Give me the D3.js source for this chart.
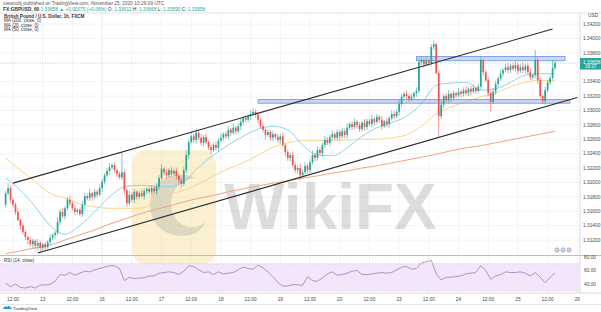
<!DOCTYPE html>
<html>
<head>
<meta charset="utf-8">
<script src="https://cdn.jsdelivr.net/npm/d3@7"></script>
<style>
  body { margin: 0; background: #fff; }
  svg { display: block; font-family: "Liberation Sans", Arial, sans-serif; }
</style>
</head>
<body>
<svg id="chart" width="601" height="312"></svg>
<script>
// GBPUSD 1h candles, Nov 12 - Nov 25 2020
var firstOpen = 1.3169;
var closes = [
  1.3185,1.3192,1.3176,1.3169,1.3159,1.3148,1.3140,1.3131,1.3124,1.3120,
  1.3114,1.3119,1.3112,1.3116,1.3109,1.3114,1.3110,1.3117,1.3123,1.3127,
  1.3130,1.3145,1.3159,1.3153,1.3164,1.3176,1.3171,1.3164,1.3159,1.3162,
  1.3156,1.3169,1.3181,1.3178,1.3185,1.3180,1.3187,1.3183,1.3192,1.3201,
  1.3210,1.3216,1.3221,1.3224,1.3217,1.3212,1.3207,1.3214,1.3189,1.3171,
  1.3183,1.3176,1.3187,1.3180,1.3185,1.3181,1.3188,1.3191,1.3187,1.3192,
  1.3188,1.3194,1.3206,1.3219,1.3214,1.3210,1.3217,1.3212,1.3216,1.3209,
  1.3203,1.3198,1.3217,1.3238,1.3256,1.3264,1.3259,1.3269,1.3262,1.3255,
  1.3263,1.3256,1.3249,1.3245,1.3252,1.3248,1.3258,1.3262,1.3267,1.3264,
  1.3273,1.3269,1.3276,1.3271,1.3278,1.3284,1.3289,1.3287,1.3292,1.3295,
  1.3298,1.3294,1.3287,1.3278,1.3273,1.3266,1.3270,1.3262,1.3267,1.3263,
  1.3259,1.3264,1.3252,1.3242,1.3234,1.3238,1.3224,1.3217,1.3220,1.3210,
  1.3214,1.3223,1.3217,1.3228,1.3238,1.3234,1.3245,1.3241,1.3252,1.3259,
  1.3255,1.3263,1.3267,1.3262,1.3270,1.3264,1.3271,1.3266,1.3276,1.3281,
  1.3277,1.3284,1.3280,1.3274,1.3283,1.3277,1.3285,1.3281,1.3288,1.3284,
  1.3291,1.3287,1.3278,1.3285,1.3281,1.3289,1.3295,1.3292,1.3298,1.3309,
  1.3319,1.3323,1.3320,1.3316,1.3319,1.3324,1.3327,1.3367,1.3370,1.3364,
  1.3369,1.3366,1.3388,1.3392,1.3352,1.3292,1.3308,1.3320,1.3314,1.3323,
  1.3317,1.3324,1.3321,1.3326,1.3323,1.3328,1.3324,1.3330,1.3326,1.3331,
  1.3327,1.3333,1.3370,1.3353,1.3342,1.3324,1.3312,1.3326,1.3337,1.3344,
  1.3351,1.3356,1.3360,1.3356,1.3362,1.3358,1.3363,1.3355,1.3360,1.3356,
  1.3362,1.3353,1.3346,1.3349,1.3370,1.3342,1.3320,1.3313,1.3328,1.3339,
  1.3345,1.3359,1.3366
];
// wick lengths above / below the body, in pips
var wickUp = [
  3,7,4,2,3,5,2,4,3,2, 4,3,2,5,3,2,4,3,5,2, 3,6,4,5,3,4,6,3,4,2,
  3,5,4,3,6,2,4,3,5,4, 3,4,6,3,4,2,3,28,4,3, 5,3,4,2,3,5,4,2,3,4,
  3,5,4,6,2,4,3,5,3,4, 3,4,5,6,4,5,3,6,4,5, 3,5,2,4,3,5,4,6,3,4,
  5,3,6,2,4,5,3,4,3,5, 5,3,4,2,5,3,4,3,5,2, 4,3,5,2,4,3,5,4,3,6,
  4,5,3,4,6,3,5,4,3,6, 4,3,5,2,4,3,5,4,6,3, 4,5,3,4,2,5,3,4,6,3,
  4,3,5,2,4,3,5,4,3,6, 4,3,5,3,4,2,5,6,4,3, 5,3,4,5,2,4,6,3,4,5,
  3,4,2,5,3,4,6,3,4,5, 3,4,4,2,3,4,3,5,4,3, 5,3,4,6,3,4,5,3,4,6,
  3,4,5,2,14,3,4,2,5,3, 4,11,3
];
var wickDown = [
  4,3,5,3,4,2,5,3,4,6, 3,5,4,6,6,4,5,3,4,3, 5,3,4,2,5,3,4,3,5,4,
  3,4,6,3,4,5,3,4,2,5, 4,3,5,3,4,5,3,4,6,5, 4,3,5,4,3,2,5,4,3,4,
  3,5,4,3,4,5,3,4,2,5, 4,5,3,4,5,3,4,5,3,4, 5,3,4,6,3,4,5,3,4,3,
  4,5,3,4,3,5,4,3,4,5, 3,4,5,3,4,6,3,4,5,3, 4,5,3,6,4,5,3,4,5,7,
  4,3,5,4,3,5,4,3,6,4, 3,5,4,3,4,5,3,4,5,3, 4,3,5,4,3,5,4,3,4,5,
  3,4,5,3,4,5,3,4,3,5, 4,3,5,4,3,4,5,3,4,5, 3,4,5,4,3,30,4,5,3,4,
  5,3,4,3,5,4,3,4,5,3, 4,3,4,5,3,4,14,3,4,5, 3,4,3,5,4,3,4,5,3,4,
  5,3,4,3,4,5,3,4,5,3, 4,3,4
];

// moving averages, one value every 6 bars (bar 0, 6, ... 222)
var maStep = 6;
var ma200 = [1.3101,1.3105,1.3109,1.3113,1.3120,1.3127,1.3134,1.3142,1.3149,1.3156,
  1.3162,1.3167,1.3173,1.3178,1.3182,1.3187,1.3191,1.3195,1.3199,1.3202,
  1.3206,1.3209,1.3213,1.3216,1.3220,1.3223,1.3227,1.3231,1.3235,1.3239,
  1.3244,1.3248,1.3251,1.3255,1.3259,1.3263,1.3267,1.3271];
var ma20 = [1.3206,1.3189,1.3166,1.3140,1.3128,1.3140,1.3159,1.3180,1.3194,1.3196,
  1.3195,1.3194,1.3201,1.3221,1.3238,1.3252,1.3264,1.3274,1.3278,1.3273,
  1.3252,1.3238,1.3237,1.3248,1.3264,1.3276,1.3283,1.3292,1.3309,1.3335,
  1.3338,1.3339,1.3328,1.3330,1.3339,1.3349,1.3351,1.3351];
var ma50 = [1.3234,1.3217,1.3201,1.3185,1.3178,1.3170,1.3166,1.3164,1.3164,1.3164,
  1.3171,1.3183,1.3189,1.3198,1.3209,1.3219,1.3227,1.3238,1.3249,1.3255,
  1.3258,1.3258,1.3258,1.3259,1.3260,1.3260,1.3262,1.3266,1.3278,1.3295,
  1.3305,1.3312,1.3319,1.3324,1.3333,1.3339,1.3342,1.3341];

// RSI(14), one value every 2 bars
var rsiStep = 2;
var rsi = [41,36,40,35,34,36,34,38.5,38.5,39.5, 44,54,53,57,53,56,59,58,61,63,
  65,67,67,63,45,50,48,49,49,52, 52,56,57,58,57,54,59,67,66,61,
  57,58,54,58,55,56,57,61,65,63, 62,68,64,58,51,42,37,37,39,39,
  38,51,45,44,49,55,58,53,54,56, 59,60,54,54,55,56,57,56,57,61,
  65,66,62,63,71,73,75,55,46,50, 50,51,52,55,56,57,67,60,47,52,
  54,58,57,57,58,56,52,57,50,42, 50,56];

// drawings: trend channel and horizontal zones
var upperChannel = [[3, 1.3199], [221, 1.3413]];
var lowerChannel = [[13, 1.3102], [231, 1.3318]];
var zones = [
  {from: 102, to: 228, top: 1.3315, bottom: 1.3310},
  {from: 166, to: 226, top: 1.3375, bottom: 1.3369}
];
var lastPrice = 1.33658;

// axis labels
var priceTicks = [1.3420,1.3400,1.3380,1.3340,1.3320,1.3300,1.3280,1.3260,1.3240,1.3220,1.3200,1.3180,1.3160,1.3140,1.3120];
var rsiTicks = [80, 60, 40];
var timeTickBars = [3,15,27,39,51,63,75,87,99,111,123,135,147,159,171,183,195,207,219,231];
var timeTickLabels = ["12:00","13","12:00","16","12:00","17","12:00","18","12:00","19","12:00","20","12:00","23","12:00","24","12:00","25","12:00","26"];

var svg = d3.select("#chart");
var W = 601, plotRight = 580;
var paneTop = 13, paneBottom = 255.5, rsiTop = 256, rsiBottom = 293;

var x = d3.scaleLinear().domain([0, 222]).range([5.6, 555.05]);
var y = d3.scaleLinear().domain([1.3420, 1.3120]).range([24, 240]);
var yr = d3.scaleLinear().domain([80, 40]).range([257, 284]);

// grid
var grid = svg.append("g");
grid.selectAll(".vg").data(timeTickBars).enter().append("line")
  .attr("x1", d => x(d)).attr("x2", d => x(d))
  .attr("y1", paneTop).attr("y2", rsiBottom)
  .attr("stroke", d => d == 39 ? "#e2e2e2" : "#f1f1f1").attr("stroke-width", 0.8);
grid.selectAll(".hg").data(priceTicks).enter().append("line")
  .attr("x1", 0).attr("x2", plotRight)
  .attr("y1", d => y(d)).attr("y2", d => y(d))
  .attr("stroke", "#f1f1f1").attr("stroke-width", 0.8);

// WikiFX watermark
var wm = svg.append("g");
wm.append("rect").attr("x", 132).attr("y", 150).attr("width", 84).attr("height", 114)
  .attr("rx", 14).attr("fill", "#f7e19a").attr("opacity", 0.45);
wm.append("path")
  .attr("d", "M150,205 C150,180 175,168 195,178 C180,180 168,192 172,210 C176,228 196,232 205,222 C198,245 150,240 150,205 Z")
  .attr("fill", "#9a9a9a").attr("opacity", 0.3);
wm.append("text").attr("x", 224).attr("y", 229).text("WikiFX")
  .attr("font-size", 64).attr("font-weight", "bold").attr("fill", "#000").attr("opacity", 0.13);

// pane borders
svg.append("line").attr("x1", 0).attr("x2", W).attr("y1", paneTop).attr("y2", paneTop).attr("stroke", "#d9d9d9").attr("stroke-width", 0.8);
svg.append("line").attr("x1", 0).attr("x2", W).attr("y1", paneBottom).attr("y2", paneBottom).attr("stroke", "#bdbdbd").attr("stroke-width", 1.2);
svg.append("line").attr("x1", 0).attr("x2", W).attr("y1", rsiBottom).attr("y2", rsiBottom).attr("stroke", "#d0d0d0").attr("stroke-width", 0.8);
svg.append("line").attr("x1", 0).attr("x2", W).attr("y1", 304.5).attr("y2", 304.5).attr("stroke", "#e0e0e0").attr("stroke-width", 0.8);
svg.append("line").attr("x1", plotRight).attr("x2", plotRight).attr("y1", paneTop).attr("y2", rsiBottom).attr("stroke", "#d0d0d0").attr("stroke-width", 0.8);

// moving averages
function maLine(values) {
  return d3.line()
    .x(function(d, i) { return x(i * maStep); })
    .y(function(d) { return y(d); })
    .curve(d3.curveMonotoneX)(values);
}
svg.append("path").attr("d", maLine(ma200)).attr("fill", "none").attr("stroke", "#f3a283").attr("stroke-width", 1);
svg.append("path").attr("d", maLine(ma50)).attr("fill", "none").attr("stroke", "#fad48e").attr("stroke-width", 1);
svg.append("path").attr("d", maLine(ma20)).attr("fill", "none").attr("stroke", "#8fd3e6").attr("stroke-width", 1);

// zones
svg.selectAll(".zone").data(zones).enter().append("rect")
  .attr("x", d => x(d.from)).attr("width", d => x(d.to) - x(d.from))
  .attr("y", d => y(d.top)).attr("height", d => y(d.bottom) - y(d.top))
  .attr("fill", "#9db7e8").attr("fill-opacity", 0.55)
  .attr("stroke", "#6f93dc").attr("stroke-width", 0.8);

// candles
var candles = closes.map(function(c, i) {
  var o = i ? closes[i - 1] : firstOpen;
  return { i: i, o: o, c: c,
    h: Math.max(o, c) + wickUp[i] / 10000,
    l: Math.min(o, c) - wickDown[i] / 10000 };
});
var up = "#26a69a", down = "#ef5350";
var cg = svg.append("g");
cg.selectAll(".wick").data(candles).enter().append("line")
  .attr("x1", d => x(d.i)).attr("x2", d => x(d.i))
  .attr("y1", d => y(d.h)).attr("y2", d => y(d.l))
  .attr("stroke", d => d.c >= d.o ? up : down).attr("stroke-width", 0.6);
cg.selectAll(".body").data(candles).enter().append("rect")
  .attr("x", d => x(d.i) - 0.85).attr("width", 1.7)
  .attr("y", d => y(Math.max(d.o, d.c)))
  .attr("height", d => Math.max(0.6, Math.abs(y(d.o) - y(d.c))))
  .attr("fill", d => d.c >= d.o ? up : down);

// channel lines
[upperChannel, lowerChannel].forEach(function(seg) {
  svg.append("line")
    .attr("x1", x(seg[0][0])).attr("y1", y(seg[0][1]))
    .attr("x2", x(seg[1][0])).attr("y2", y(seg[1][1]))
    .attr("stroke", "#2b2b2b").attr("stroke-width", 1.1);
});

// last price line
svg.append("line").attr("x1", 0).attr("x2", plotRight)
  .attr("y1", y(lastPrice)).attr("y2", y(lastPrice))
  .attr("stroke", "#26a69a").attr("stroke-width", 0.6).attr("stroke-dasharray", "1,1.5").attr("opacity", 0.7);

// price axis
var axisG = svg.append("g").attr("font-size", 4.8).attr("fill", "#4a4a4a");
axisG.append("text").attr("x", 588).attr("y", 16.5).text("USD");
axisG.selectAll(".pt").data(priceTicks).enter().append("text")
  .attr("x", 583).attr("y", d => y(d) + 1.7).text(d => d.toFixed(5));
svg.append("rect").attr("x", plotRight).attr("y", y(lastPrice) - 5).attr("width", 21).attr("height", 11.5).attr("fill", "#26a69a");
svg.append("text").attr("x", 583).attr("y", y(lastPrice) + 0.6).text(lastPrice.toFixed(5))
  .attr("font-size", 4.8).attr("fill", "#fff");
svg.append("text").attr("x", 585).attr("y", y(lastPrice) + 5.2).text("19:27")
  .attr("font-size", 4.6).attr("fill", "#fff");

// RSI pane
svg.append("rect").attr("x", 0).attr("width", plotRight)
  .attr("y", yr(70)).attr("height", yr(30) - yr(70)).attr("fill", "#f3e6fa");
[70, 30].forEach(function(v) {
  svg.append("line").attr("x1", 0).attr("x2", plotRight).attr("y1", yr(v)).attr("y2", yr(v))
    .attr("stroke", "#b9a3c9").attr("stroke-width", 0.5).attr("stroke-dasharray", "1.5,1.5");
});
svg.append("path")
  .attr("d", d3.line().x((d, i) => x(i * rsiStep)).y(d => yr(d))(rsi))
  .attr("fill", "none").attr("stroke", "#a479b8").attr("stroke-width", 0.8);
axisG.selectAll(".rt").data(rsiTicks).enter().append("text")
  .attr("x", 584).attr("y", d => yr(d) + 1.7).text(d => d.toFixed(2));
svg.append("text").attr("x", 4).attr("y", 262).text("RSI (14, close)")
  .attr("font-size", 4.6).attr("fill", "#333");

// time axis
svg.append("g").selectAll("text").data(timeTickBars).enter().append("text")
  .attr("x", d => x(d)).attr("y", 300.5).attr("text-anchor", "middle")
  .attr("font-size", 4.8).attr("fill", "#4a4a4a")
  .text((d, i) => timeTickLabels[i]);

// header and legend
svg.append("text").attr("x", 3).attr("y", 5).attr("font-size", 4.8).attr("fill", "#555")
  .text("cessnobj published on TradingView.com, November 25, 2020 10:26:09 UTC");
var hdr = svg.append("text").attr("x", 3).attr("y", 10.5).attr("font-size", 4.8).attr("fill", "#333");
hdr.append("tspan").attr("font-weight", "bold").text("FX:GBPUSD, 60 ");
hdr.append("tspan").attr("fill", up).text("1.33658 \u25B2 +0.00075 (+0.06%) ");
hdr.append("tspan").text("O: ");
hdr.append("tspan").attr("fill", up).text("1.33612 ");
hdr.append("tspan").text("H: ");
hdr.append("tspan").attr("fill", up).text("1.33668 ");
hdr.append("tspan").text("L: ");
hdr.append("tspan").attr("fill", up).text("1.33590 ");
hdr.append("tspan").text("C: ");
hdr.append("tspan").attr("fill", up).text("1.33658");

var legend = ["MA (200, close, 0)", "MA (20, close, 0)", "MA (50, close, 0)"];
svg.append("text").attr("x", 4).attr("y", 17.5).attr("font-size", 4.6).attr("font-weight", "bold")
  .attr("fill", "#333").text("British Pound / U.S. Dollar, 1h, FXCM");
svg.selectAll(".lg").data(legend).enter().append("text")
  .attr("x", 4).attr("y", (d, i) => 22 + i * 4.5).attr("font-size", 4.6).attr("fill", "#333").text(d => d);

// reaction icons and footer logo
svg.selectAll(".emo").data(["#f6c1cf", "#c7d3f5", "#f6c1cf"]).enter().append("circle")
  .attr("cx", (d, i) => 557 + i * 6).attr("cy", 250).attr("r", 2.2)
  .attr("fill", d => d).attr("stroke", "#7d8fd0").attr("stroke-width", 0.5);
svg.append("path").attr("d", "M3,309 q1.5,-4 4,-2 q2,-2 3.5,0.5 q1.5,0 1.5,1.5 z").attr("fill", "#2196f3");
svg.append("text").attr("x", 13).attr("y", 309.5).attr("font-size", 4.4).attr("fill", "#333").text("TradingView");
</script>
</body>
</html>
